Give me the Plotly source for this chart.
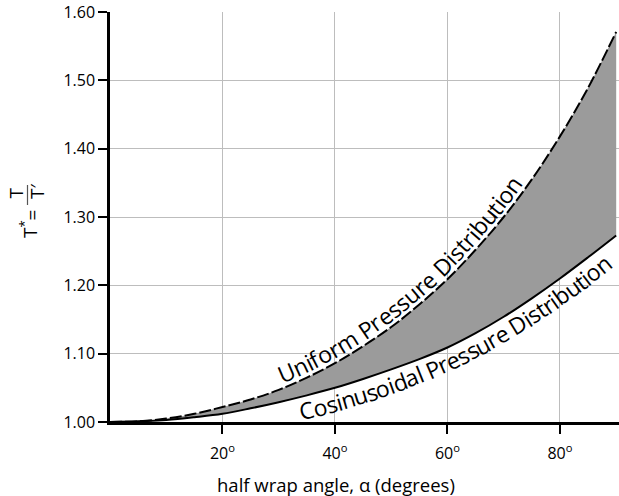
import numpy as np
import plotly.graph_objects as go

# ---------------- data ----------------
alpha_deg = [0, 5, 10, 15, 20, 25, 30, 35, 40, 45, 50, 55, 60, 65, 70, 75, 80, 85, 90]
uniform = [1.000, 1.001, 1.005, 1.012, 1.022, 1.033, 1.047, 1.065, 1.086, 1.111,
           1.139, 1.172, 1.209, 1.252, 1.300, 1.355, 1.418, 1.489, 1.571]
cosinusoidal = [1.000, 1.001, 1.003, 1.007, 1.012, 1.020, 1.029, 1.039, 1.050, 1.063,
                1.077, 1.092, 1.109, 1.130, 1.154, 1.181, 1.210, 1.241, 1.273]
x_tickvals = [20, 40, 60, 80]
x_ticktext = ["20<sup>o</sup>", "40<sup>o</sup>", "60<sup>o</sup>", "80<sup>o</sup>"]
y_tickvals = [1.0, 1.1, 1.2, 1.3, 1.4, 1.5, 1.6]
label_upper = "Uniform Pressure Distribution"
label_lower = "Cosinusoidal Pressure Distribution"
x_title = "half wrap angle, α (degrees)"

# ---------------- layout geometry ----------------
W, H = 619, 496
ML, MR, MT, MB = 110, 0, 12, 74
XR = [0, 90.5]
YR = [1.0, 1.6]
PW = W - ML - MR
PH = H - MT - MB
FONT = "Open Sans"
INK = "#000000"


def d2px(x, y):
    x = np.asarray(x, float)
    y = np.asarray(y, float)
    return (ML + (x - XR[0]) / (XR[1] - XR[0]) * PW,
            MT + (YR[1] - y) / (YR[1] - YR[0]) * PH)


def px2paper(px, py):
    return (px - ML) / PW, (MT + PH - py) / PH


CHAR_W = {' ': 0.26, 'U': 0.73, 'n': 0.61, 'i': 0.25, 'f': 0.34, 'o': 0.60, 'r': 0.41,
          'm': 0.93, 'P': 0.60, 'e': 0.56, 's': 0.48, 'u': 0.61, 'D': 0.72, 't': 0.35,
          'b': 0.60, 'C': 0.63, 'd': 0.60, 'a': 0.56, 'l': 0.25}


def curve_label(text, xs, ys, x_start_px, x_end_px, offset, fsize, above=True):
    coef = np.polyfit(xs, ys, 5)
    t = np.linspace(XR[0], XR[1], 3000)
    px, py = d2px(t, np.polyval(coef, t))
    dx, dy = np.gradient(px), np.gradient(py)
    L = np.hypot(dx, dy)
    tx, ty = dx / L, dy / L
    s = 1 if above else -1
    nx, ny = s * ty, -s * tx
    ox, oy = px + offset * nx, py + offset * ny
    arc = np.concatenate([[0], np.cumsum(np.hypot(np.diff(ox), np.diff(oy)))])
    s0 = np.interp(x_start_px, px, arc)
    s1 = np.interp(x_end_px, px, arc)
    widths = [CHAR_W.get(c, 0.55) for c in text]
    total = sum(widths)
    cum = 0.0
    anns = []
    for c, w in zip(text, widths):
        sc = s0 + (cum + w / 2) / total * (s1 - s0)
        cum += w
        if c == ' ':
            continue
        cx = np.interp(sc, arc, ox)
        cy = np.interp(sc, arc, oy)
        ang = np.degrees(np.arctan2(np.interp(sc, arc, ty), np.interp(sc, arc, tx)))
        xp, yp = px2paper(cx, cy)
        anns.append(dict(x=float(xp), y=float(yp), xref="paper", yref="paper", text=c,
                         showarrow=False, textangle=float(ang), xanchor="center",
                         yanchor="middle", font=dict(family=FONT, size=fsize, color=INK)))
    return anns


fig = go.Figure()
fig.add_trace(go.Scatter(x=alpha_deg, y=cosinusoidal, mode="lines",
                         line=dict(color="black", width=2, shape="spline"),
                         name="Cosinusoidal Pressure Distribution", showlegend=False))
fig.add_trace(go.Scatter(x=alpha_deg, y=uniform, mode="lines", fill="tonexty",
                         fillcolor="#9b9b9b",
                         line=dict(color="black", width=2, dash="12px,3px", shape="spline"),
                         name="Uniform Pressure Distribution", showlegend=False))

anns = []
anns += curve_label(label_upper, alpha_deg, uniform, 284, 527, 13, 23, above=True)
anns += curve_label(label_lower, alpha_deg, cosinusoidal, 297, 599, 14, 23, above=False)

# x-axis title
xp, yp = px2paper(336, 485)
anns.append(dict(x=xp, y=yp, xref="paper", yref="paper", text=x_title, showarrow=False,
                 xanchor="center", yanchor="middle",
                 font=dict(family=FONT, size=18.5, color=INK)))

# y-axis title  T* = T / T'
def ytitle_piece(text, px, py, size=19):
    a, b = px2paper(px, py)
    return dict(x=a, y=b, xref="paper", yref="paper", text=text, showarrow=False,
                textangle=-90, xanchor="center", yanchor="middle",
                font=dict(family=FONT, size=size, color=INK))

anns.append(ytitle_piece("T<sup>*</sup>", 29, 229))
anns.append(ytitle_piece("=", 31, 215.5))
anns.append(ytitle_piece("T", 15.5, 193))
anns.append(ytitle_piece("T′", 37, 192))

bx0, by0 = px2paper(27.5, 185)
bx1, by1 = px2paper(27.5, 205)
shapes = [dict(type="line", xref="paper", yref="paper", x0=bx0, y0=by0, x1=bx1, y1=by1,
               line=dict(color="#555555", width=1.2))]

fig.update_layout(
    width=W, height=H,
    margin=dict(l=ML, r=MR, t=MT, b=MB, autoexpand=False),
    paper_bgcolor="white", plot_bgcolor="white",
    showlegend=False,
    annotations=anns, shapes=shapes,
    font=dict(family=FONT, size=16, color=INK),
)
fig.update_xaxes(range=XR, tickvals=x_tickvals, ticktext=x_ticktext,
                 showgrid=True, gridcolor="#bdbdbd", gridwidth=1,
                 showline=True, linecolor="black", linewidth=2.5,
                 ticks="outside", ticklen=9, tickwidth=2, tickcolor="black",
                 ticklabelstandoff=6,
                 tickfont=dict(family=FONT, size=16, color=INK), zeroline=False,
                 automargin=False)
fig.update_yaxes(range=YR, tickvals=y_tickvals, tickformat=".2f",
                 showgrid=True, gridcolor="#bdbdbd", gridwidth=1,
                 showline=True, linecolor="black", linewidth=2.5,
                 ticks="outside", ticklen=9, tickwidth=2, tickcolor="black",
                 tickfont=dict(family=FONT, size=16, color=INK), zeroline=False,
                 automargin=False)

fig.write_html("out.html")
